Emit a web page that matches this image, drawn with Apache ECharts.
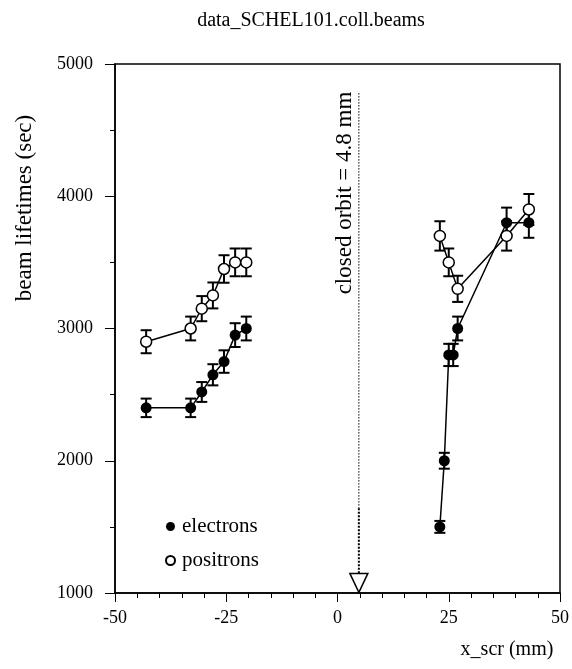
<!DOCTYPE html>
<html>
<head>
<meta charset="utf-8">
<script src="https://cdn.jsdelivr.net/npm/echarts@6/dist/echarts.min.js"></script>
<style>
html,body{margin:0;padding:0;background:#fff;}
#chart{width:572px;height:669px;}
</style>
</head>
<body>
<div id="chart"></div>
<script>
// ---- data ----
const electronsLeftX   = [-43, -33, -30.5, -28, -25.5, -23, -20.5];
const electronsLeftY   = [2400, 2400, 2520, 2650, 2750, 2950, 3000];
const electronsLeftErr = [70, 70, 75, 80, 85, 90, 90];

const positronsLeftX   = [-43, -33, -30.5, -28, -25.5, -23, -20.5];
const positronsLeftY   = [2900, 3000, 3150, 3250, 3450, 3500, 3500];
const positronsLeftErr = [87, 90, 95, 98, 104, 105, 105];

const electronsRightX   = [23, 24, 25, 26, 27, 38, 43];
const electronsRightY   = [1500, 2000, 2800, 2800, 3000, 3800, 3800];
const electronsRightErr = [45, 60, 84, 84, 90, 114, 114];

const positronsRightX   = [23, 25, 27, 38, 43];
const positronsRightY   = [3700, 3500, 3300, 3700, 3900];
const positronsRightErr = [111, 105, 99, 111, 117];

const closedOrbitX = 4.8;
const closedOrbitLineTop = 4780;
const closedOrbitLineMid = 1640;
const closedOrbitMarkerY = 1076;

const xTicks = [-50, -25, 0, 25, 50];
const yTicks = [1000, 2000, 3000, 4000, 5000];

const titleText = 'data_SCHEL101.coll.beams';
const xName = 'x_scr (mm)';
const yName = 'beam lifetimes (sec)';
const orbitLabel = 'closed orbit = 4.8 mm';

// ---- build ----
const FONT = "'Liberation Serif','DejaVu Serif',serif";
function pts(xs, ys) { return xs.map((x, i) => [x, ys[i]]); }
function errPts(xs, ys, es) { return xs.map((x, i) => [x, ys[i], es[i]]); }

function errRender(params, api) {
  const x = api.value(0), y = api.value(1), e = api.value(2);
  const top = api.coord([x, y + e]);
  const bot = api.coord([x, y - e]);
  const hw = 5.5;
  const st = { stroke: '#000', lineWidth: 2 };
  return {
    type: 'group',
    children: [
      { type: 'line', shape: { x1: top[0], y1: top[1], x2: bot[0], y2: bot[1] }, style: st },
      { type: 'line', shape: { x1: top[0] - hw, y1: top[1], x2: top[0] + hw, y2: top[1] }, style: st },
      { type: 'line', shape: { x1: bot[0] - hw, y1: bot[1], x2: bot[0] + hw, y2: bot[1] }, style: st }
    ]
  };
}

const lineStyle = { color: '#000', width: 1.5 };
function lineSeries(data) {
  return { type: 'line', data: data, symbol: 'none', lineStyle: lineStyle, silent: true, z: 2 };
}
function errSeries(data) {
  return { type: 'custom', renderItem: errRender, data: data, z: 3, silent: true };
}
const elecItem = { color: '#000', opacity: 1 };
const posiItem = { color: '#fff', borderColor: '#000', borderWidth: 1.5, opacity: 1 };

const chart = echarts.init(document.getElementById('chart'), null, { renderer: 'canvas' });
chart.setOption({
  animation: false,
  backgroundColor: '#fff',
  textStyle: { fontFamily: FONT, color: '#000' },
  grid: { left: 115, right: 11, top: 64, bottom: 76, show: true, borderColor: '#000', borderWidth: 1.5, backgroundColor: 'transparent' },
  xAxis: {
    type: 'value', min: xTicks[0], max: xTicks[xTicks.length - 1], interval: 25,
    axisLine: { onZero: false, lineStyle: { color: '#000', width: 1.5 } },
    axisTick: { inside: false, length: 9, lineStyle: { color: '#000', width: 1 } },
    minorTick: { show: true, splitNumber: 5, length: 5, lineStyle: { color: '#000', width: 1 } },
    splitLine: { show: false },
    axisLabel: { margin: 16, fontSize: 18, fontFamily: FONT, color: '#000', formatter: v => String(v) }
  },
  yAxis: {
    type: 'value', min: yTicks[0], max: yTicks[yTicks.length - 1], interval: 1000,
    axisLine: { onZero: false, lineStyle: { color: '#000', width: 1.5 } },
    axisTick: { inside: false, length: 10, lineStyle: { color: '#000', width: 1 } },
    minorTick: { show: true, splitNumber: 2, length: 5, lineStyle: { color: '#000', width: 1 } },
    splitLine: { show: false },
    axisLabel: { margin: 22, fontSize: 18, fontFamily: FONT, color: '#000', formatter: v => String(v) }
  },
  legend: {
    data: [
      { name: 'electrons', icon: 'circle' },
      { name: 'positrons', icon: 'circle' }
    ],
    orient: 'vertical', left: 160, top: 511, itemWidth: 9, itemHeight: 9, itemGap: 13,
    selectedMode: false,
    textStyle: { fontSize: 21, fontFamily: FONT, color: '#000', padding: [0, 0, 0, 2] }
  },
  graphic: [
    { type: 'text', x: 311, y: 21, style: { text: titleText, font: '20px ' + FONT, fill: '#000', align: 'center', verticalAlign: 'middle' }, z: 10 },
    { type: 'text', x: 507, y: 650, style: { text: xName, font: '20px ' + FONT, fill: '#000', align: 'center', verticalAlign: 'middle' } },
    { type: 'text', x: 25, y: 208, rotation: Math.PI / 2, style: { text: yName, font: '23px ' + FONT, fill: '#000', align: 'center', verticalAlign: 'middle' } },
    { type: 'text', x: 345, y: 193, rotation: Math.PI / 2, style: { text: orbitLabel, font: '23px ' + FONT, fill: '#000', align: 'center', verticalAlign: 'middle' } }
  ],
  series: [
    { type: 'line', data: [[closedOrbitX, closedOrbitLineTop], [closedOrbitX, closedOrbitLineMid]], symbol: 'none',
      lineStyle: { color: '#000', width: 1, type: [1.5, 1.5] }, silent: true, z: 1 },
    { type: 'line', data: [[closedOrbitX, closedOrbitLineMid], [closedOrbitX, closedOrbitMarkerY]], symbol: 'none',
      lineStyle: { color: '#000', width: 2, type: [2, 1.5] }, silent: true, z: 1 },
    { type: 'scatter', data: [[closedOrbitX, closedOrbitMarkerY]], symbol: 'triangle', symbolRotate: 180, symbolSize: [18, 19],
      itemStyle: { color: '#fff', borderColor: '#000', borderWidth: 1.5, opacity: 1 }, silent: true, z: 2 },

    lineSeries(pts(electronsLeftX, electronsLeftY)),
    lineSeries(pts(electronsRightX, electronsRightY)),
    lineSeries(pts(positronsLeftX, positronsLeftY)),
    lineSeries(pts(positronsRightX, positronsRightY)),

    errSeries(errPts(electronsLeftX, electronsLeftY, electronsLeftErr)),
    errSeries(errPts(electronsRightX, electronsRightY, electronsRightErr)),
    errSeries(errPts(positronsLeftX, positronsLeftY, positronsLeftErr)),
    errSeries(errPts(positronsRightX, positronsRightY, positronsRightErr)),

    { name: 'electrons', type: 'scatter', symbol: 'circle', symbolSize: 11, itemStyle: elecItem, z: 5, silent: true,
      data: pts(electronsLeftX, electronsLeftY).concat(pts(electronsRightX, electronsRightY)) },
    { name: 'positrons', type: 'scatter', symbol: 'circle', symbolSize: 11, itemStyle: posiItem, z: 5, silent: true,
      data: pts(positronsLeftX, positronsLeftY).concat(pts(positronsRightX, positronsRightY)) }
  ]
});
</script>
</body>
</html>
